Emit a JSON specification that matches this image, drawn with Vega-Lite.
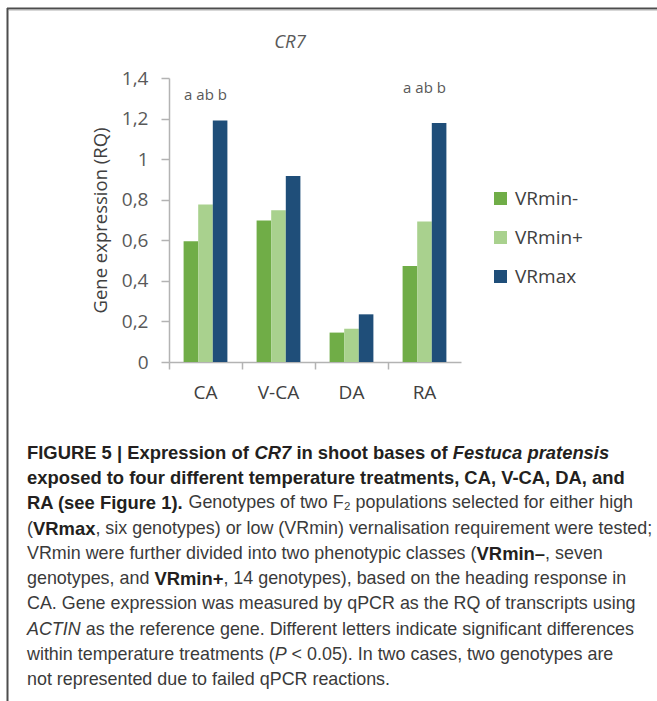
{
  "$schema": "https://vega.github.io/schema/vega-lite/v6.json",
  "width": 292,
  "height": 284,
  "autosize": {"type": "none"},
  "padding": {"left": 169, "top": 78, "right": 196, "bottom": 339},
  "background": "white",
  "config": {"view": {"stroke": null}},
  "datasets": {
    "expr": [
      {"treatment": "CA", "genotype": "VRmin-", "rq": 0.595},
      {"treatment": "CA", "genotype": "VRmin+", "rq": 0.777},
      {"treatment": "CA", "genotype": "VRmax", "rq": 1.191},
      {"treatment": "V-CA", "genotype": "VRmin-", "rq": 0.698},
      {"treatment": "V-CA", "genotype": "VRmin+", "rq": 0.748},
      {"treatment": "V-CA", "genotype": "VRmax", "rq": 0.917},
      {"treatment": "DA", "genotype": "VRmin-", "rq": 0.145},
      {"treatment": "DA", "genotype": "VRmin+", "rq": 0.164},
      {"treatment": "DA", "genotype": "VRmax", "rq": 0.235},
      {"treatment": "RA", "genotype": "VRmin-", "rq": 0.473},
      {"treatment": "RA", "genotype": "VRmin+", "rq": 0.693},
      {"treatment": "RA", "genotype": "VRmax", "rq": 1.178}
    ],
    "letters": [
      {"treatment": "CA", "letters": "a ab b", "top": 1.191},
      {"treatment": "RA", "letters": "a ab b", "top": 1.178}
    ],
    "caption": [
      {"line": 1, "seg": "b0", "text": "FIGURE 5 | Expression of"},
      {"line": 1, "seg": "bi1", "text": "CR7"},
      {"line": 1, "seg": "b2", "text": "in shoot bases of"},
      {"line": 1, "seg": "bi3", "text": "Festuca pratensis"},
      {"line": 2, "seg": "b0", "text": "exposed to four different temperature treatments, CA, V-CA, DA, and"},
      {"line": 3, "seg": "b0", "text": "RA (see Figure 1)."},
      {"line": 3, "seg": "n3", "text": "Genotypes of two F₂ populations selected for either high"},
      {"line": 4, "seg": "n0", "text": "("},
      {"line": 4, "seg": "b4", "text": "VRmax"},
      {"line": 4, "seg": "n4", "text": ", six genotypes) or low (VRmin) vernalisation requirement were tested;"},
      {"line": 5, "seg": "n0", "text": "VRmin were further divided into two phenotypic classes ("},
      {"line": 5, "seg": "b5", "text": "VRmin–"},
      {"line": 5, "seg": "n5", "text": ", seven"},
      {"line": 6, "seg": "n0", "text": "genotypes, and"},
      {"line": 6, "seg": "b6", "text": "VRmin+"},
      {"line": 6, "seg": "n6", "text": ", 14 genotypes), based on the heading response in"},
      {"line": 7, "seg": "n0", "text": "CA. Gene expression was measured by qPCR as the RQ of transcripts using"},
      {"line": 8, "seg": "i0", "text": "ACTIN"},
      {"line": 8, "seg": "n8", "text": "as the reference gene. Different letters indicate significant differences"},
      {"line": 9, "seg": "n0", "text": "within temperature treatments ("},
      {"line": 9, "seg": "i9", "text": "P"},
      {"line": 9, "seg": "n9", "text": "< 0.05). In two cases, two genotypes are"},
      {"line": 10, "seg": "n0", "text": "not represented due to failed qPCR reactions."}
    ]
  },
  "layer": [
    {
      "layer": [
        {
          "data": {"name": "expr"},
          "mark": {"type": "bar"},
          "encoding": {
            "x": {
              "field": "treatment",
              "type": "nominal",
              "sort": ["CA", "V-CA", "DA", "RA"],
              "scale": {"paddingInner": 0.4, "paddingOuter": 0.2},
              "axis": {
                "title": null,
                "labelAngle": 0,
                "bandPosition": -0.3333,
                "tickSize": 7,
                "labelPadding": 14,
                "labelFont": "Open Sans",
                "labelFontSize": 19,
                "labelColor": "#404040",
                "domainColor": "#b3b3b3",
                "tickColor": "#b3b3b3",
                "domainWidth": 1.5,
                "tickWidth": 1.5
              }
            },
            "xOffset": {
              "field": "genotype",
              "type": "nominal",
              "sort": ["VRmin-", "VRmin+", "VRmax"],
              "scale": {"paddingInner": 0, "paddingOuter": 0}
            },
            "y": {
              "field": "rq",
              "type": "quantitative",
              "scale": {"domain": [0, 1.4], "nice": false},
              "axis": {
                "title": "Gene expression (RQ)",
                "values": [0, 0.2, 0.4, 0.6, 0.8, 1, 1.2, 1.4],
                "labelExpr": "replace(format(datum.value, '.1~f'), '.', ',')",
                "grid": false,
                "tickSize": 8,
                "labelPadding": 13,
                "labelFont": "Open Sans",
                "labelFontSize": 19,
                "labelColor": "#595959",
                "domainColor": "#b3b3b3",
                "tickColor": "#b3b3b3",
                "domainWidth": 1.5,
                "tickWidth": 1.5,
                "titleFont": "Open Sans",
                "titleFontSize": 18.5,
                "titleFontWeight": "normal",
                "titleColor": "#404040",
                "titleAngle": -90,
                "titleBaseline": "middle",
                "titleAlign": "center",
                "titleX": -69,
                "titleY": 142
              }
            },
            "color": {
              "field": "genotype",
              "type": "nominal",
              "sort": ["VRmin-", "VRmin+", "VRmax"],
              "scale": {"domain": ["VRmin-", "VRmin+", "VRmax"], "range": ["#70ad47", "#a9d18e", "#1f4e79"]},
              "legend": {
                "title": null,
                "orient": "none",
                "legendX": 322,
                "legendY": 111,
                "symbolType": "square",
                "symbolSize": 169,
                "symbolStrokeWidth": 0,
                "labelFont": "Open Sans",
                "labelFontSize": 19,
                "labelColor": "#404040",
                "labelOffset": 5,
                "rowPadding": 19
              }
            }
          }
        },
        {
          "data": {"name": "letters"},
          "transform": [{"filter": "datum.treatment == 'CA'"}],
          "mark": {"type": "text", "font": "Open Sans", "fontSize": 15, "color": "#595959", "baseline": "middle", "dy": -25},
          "encoding": {
            "x": {"field": "treatment", "type": "nominal", "sort": ["CA", "V-CA", "DA", "RA"]},
            "y": {"field": "top", "type": "quantitative"},
            "text": {"field": "letters"}
          }
        },
        {
          "data": {"name": "letters"},
          "transform": [{"filter": "datum.treatment == 'RA'"}],
          "mark": {"type": "text", "font": "Open Sans", "fontSize": 15, "color": "#595959", "baseline": "middle", "dy": -35},
          "encoding": {
            "x": {"field": "treatment", "type": "nominal", "sort": ["CA", "V-CA", "DA", "RA"]},
            "y": {"field": "top", "type": "quantitative"},
            "text": {"field": "letters"}
          }
        }
      ]
    },
    {
      "data": {"values": [{"title": "CR7"}]},
      "mark": {"type": "text", "font": "Open Sans", "fontSize": 18.5, "fontStyle": "italic", "color": "#595959", "align": "center", "baseline": "middle", "x": 121, "y": -36},
      "encoding": {"text": {"field": "title"}}
    },
    {
      "data": {"values": [{"edge": "left"}]},
      "mark": {"type": "rule", "color": "#4d4d4d", "strokeWidth": 2},
      "encoding": {"x": {"value": -161.5}, "y": {"value": -70}, "y2": {"value": 623}}
    },
    {
      "data": {"values": [{"edge": "top"}]},
      "mark": {"type": "rule", "color": "#4d4d4d", "strokeWidth": 2},
      "encoding": {"x": {"value": -162}, "x2": {"value": 488}, "y": {"value": -69.5}}
    },
    {
      "data": {"values": [{"edge": "top2"}]},
      "mark": {"type": "rule", "color": "#b0b0b0", "strokeWidth": 1},
      "encoding": {"x": {"value": -160}, "x2": {"value": 488}, "y": {"value": -68}}
    },
    {
      "data": {"name": "caption"},
      "encoding": {
        "y": {"field": "line", "type": "quantitative", "scale": {"domain": [1, 10], "range": [375, 602], "zero": false, "nice": false}, "axis": null},
        "text": {"field": "text"}
      },
      "layer": [
        {"transform": [{"filter": "datum.seg == 'b0'"}], "mark": {"type": "text", "align": "left", "baseline": "middle", "font": "Liberation Sans", "fontSize": 18.4, "fontWeight": "bold", "color": "#231f20", "x": -142}},
        {"transform": [{"filter": "datum.seg == 'bi1'"}], "mark": {"type": "text", "align": "left", "baseline": "middle", "font": "Liberation Sans", "fontSize": 18.4, "fontWeight": "bold", "fontStyle": "italic", "color": "#231f20", "x": 85.5}},
        {"transform": [{"filter": "datum.seg == 'b2'"}], "mark": {"type": "text", "align": "left", "baseline": "middle", "font": "Liberation Sans", "fontSize": 18.4, "fontWeight": "bold", "color": "#231f20", "x": 127.4}},
        {"transform": [{"filter": "datum.seg == 'bi3'"}], "mark": {"type": "text", "align": "left", "baseline": "middle", "font": "Liberation Sans", "fontSize": 18.4, "fontWeight": "bold", "fontStyle": "italic", "color": "#231f20", "x": 283.8}},
        {"transform": [{"filter": "datum.seg == 'n3'"}], "mark": {"type": "text", "align": "left", "baseline": "middle", "font": "Liberation Sans", "fontSize": 17.9, "color": "#3a3a3a", "x": 19.5}},
        {"transform": [{"filter": "datum.seg == 'n0'"}], "mark": {"type": "text", "align": "left", "baseline": "middle", "font": "Liberation Sans", "fontSize": 17.9, "color": "#3a3a3a", "x": -142}},
        {"transform": [{"filter": "datum.seg == 'b4'"}], "mark": {"type": "text", "align": "left", "baseline": "middle", "font": "Liberation Sans", "fontSize": 18.4, "fontWeight": "bold", "color": "#231f20", "x": -136}},
        {"transform": [{"filter": "datum.seg == 'n4'"}], "mark": {"type": "text", "align": "left", "baseline": "middle", "font": "Liberation Sans", "fontSize": 17.9, "color": "#3a3a3a", "x": -73.6}},
        {"transform": [{"filter": "datum.seg == 'b5'"}], "mark": {"type": "text", "align": "left", "baseline": "middle", "font": "Liberation Sans", "fontSize": 18.4, "fontWeight": "bold", "color": "#231f20", "x": 307.6}},
        {"transform": [{"filter": "datum.seg == 'n5'"}], "mark": {"type": "text", "align": "left", "baseline": "middle", "font": "Liberation Sans", "fontSize": 17.9, "color": "#3a3a3a", "x": 376.1}},
        {"transform": [{"filter": "datum.seg == 'b6'"}], "mark": {"type": "text", "align": "left", "baseline": "middle", "font": "Liberation Sans", "fontSize": 18.4, "fontWeight": "bold", "color": "#231f20", "x": -14.6}},
        {"transform": [{"filter": "datum.seg == 'n6'"}], "mark": {"type": "text", "align": "left", "baseline": "middle", "font": "Liberation Sans", "fontSize": 17.9, "color": "#3a3a3a", "x": 54.4}},
        {"transform": [{"filter": "datum.seg == 'i0'"}], "mark": {"type": "text", "align": "left", "baseline": "middle", "font": "Liberation Sans", "fontSize": 17.9, "fontStyle": "italic", "color": "#3a3a3a", "x": -142}},
        {"transform": [{"filter": "datum.seg == 'n8'"}], "mark": {"type": "text", "align": "left", "baseline": "middle", "font": "Liberation Sans", "fontSize": 17.9, "color": "#3a3a3a", "x": -83.3}},
        {"transform": [{"filter": "datum.seg == 'i9'"}], "mark": {"type": "text", "align": "left", "baseline": "middle", "font": "Liberation Sans", "fontSize": 17.9, "fontStyle": "italic", "color": "#3a3a3a", "x": 105.7}},
        {"transform": [{"filter": "datum.seg == 'n9'"}], "mark": {"type": "text", "align": "left", "baseline": "middle", "font": "Liberation Sans", "fontSize": 17.9, "color": "#3a3a3a", "x": 122.6}}
      ]
    }
  ],
  "resolve": {"scale": {"y": "independent"}}
}
